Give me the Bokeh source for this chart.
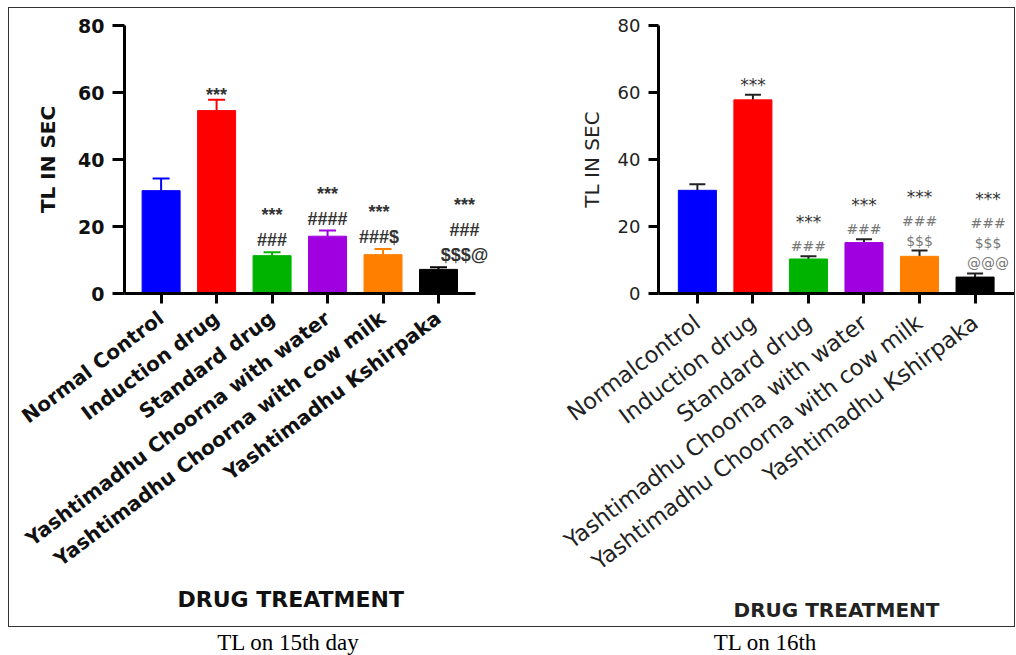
import math
from bokeh.plotting import figure
from bokeh.models import (ColumnDataSource, Range1d, FixedTicker, Div, Spacer, LabelSet, Title)
from bokeh.layouts import row, column
from bokeh.embed import file_html
from bokeh.resources import INLINE
from bokeh.core.properties import value

# ---------------- data ----------------
labels_15 = ["Normal Control", "Induction drug", "Standard drug",
             "Yashtimadhu Choorna with water", "Yashtimadhu Choorna with cow milk",
             "Yashtimadhu Kshirpaka"]
tl_15 = [30.7, 54.6, 11.3, 17.1, 11.6, 7.2]
sem_15 = [3.6, 3.2, 1.0, 1.7, 1.7, 0.6]
sig_15 = [[], ["***"], ["***", "###"], ["***", "####"], ["***", "###$"],
          ["***", "###", "$$$@"]]

labels_16 = ["Normalcontrol", "Induction drug", "Standard drug",
             "Yashtimadhu Choorna with water", "Yashtimadhu Choorna with cow milk",
             "Yashtimadhu Kshirpaka"]
tl_16 = [30.8, 57.8, 10.3, 15.2, 11.1, 4.9]
sem_16 = [1.8, 1.5, 0.8, 1.0, 1.7, 1.1]
sig_16 = [[], ["***"], ["***", "###"], ["***", "###"], ["***", "###", "$$$"],
          ["***", "###", "$$$", "@@@"]]

bar_colors = ["#0000fe", "#fe0000", "#00b300", "#a000e0", "#ff8000", "#000000"]
y_ticks = [0, 20, 40, 60, 80]
x_title = "DRUG TREATMENT"
y_title = "TL IN SEC"
captions = ["TL on 15th day", "TL on 16th"]


def panel(labels, means, sems, sigs, cfg):
    n_bars = len(labels)
    xs = list(range(n_bars))
    p = figure(x_range=Range1d(*cfg["xr"]), y_range=Range1d(0, 80),
               width=cfg["width"], height=cfg["height"],
               output_backend="svg", toolbar_location=None,
               min_border_left=cfg["mbl"], min_border_right=cfg["mbr"],
               min_border_top=cfg["mbt"], min_border_bottom=cfg["mbb"])
    p.outline_line_color = None
    p.xgrid.visible = False
    p.ygrid.visible = False
    p.background_fill_color = "white"
    p.border_fill_color = "white"

    tops = [m + s for m, s in zip(means, sems)]
    cap_col = bar_colors if cfg["cap_same"] else ["#222222"] * n_bars
    src = ColumnDataSource(dict(x=xs, m=means, t=tops, c=bar_colors, cc=cap_col))
    p.segment(x0="x", y0="m", x1="x", y1="t", line_color="cc", line_width=2, source=src)
    p.scatter(x="x", y="t", marker="dash", size=cfg["cap"], line_color="cc",
              line_width=2, source=src)
    p.vbar(x="x", top="m", bottom=0, width=0.685, fill_color="c", line_color="c", source=src)

    ax, ay, at, ao, axo, acol, asz = [], [], [], [], [], [], []
    for i, lines in enumerate(sigs):
        n = len(lines)
        for j, t in enumerate(lines):
            k = n - 1 - j
            star = t.startswith("*")
            ax.append(xs[i])
            ay.append(tops[i])
            at.append(t)
            extra = cfg["star_extra"] if (star and k > 0) else 0
            g0 = cfg["g0"] if n > 1 else cfg["g_single"]
            ao.append(g0 + k * cfg["gap"] + extra)
            axo.append(cfg["shift"].get(i, 0))
            acol.append(cfg["star_col"] if star else cfg["sym_col"])
            asz.append(cfg["star_size"] if star else cfg["ann_size"])
    asrc = ColumnDataSource(dict(x=ax, y=ay, t=at, yo=ao, xo=axo, c=acol, s=asz))
    p.add_layout(LabelSet(x="x", y="y", text="t", y_offset="yo", x_offset="xo", source=asrc,
                          text_color="c", text_align="center", text_baseline="middle",
                          text_font=value(cfg["ann_font"]), text_font_size="s",
                          text_font_style=cfg["ann_style"]))

    for a in (p.xaxis[0], p.yaxis[0]):
        a.axis_line_width = 3
        a.axis_line_color = "black"
        a.major_tick_line_width = 3
        a.major_tick_line_color = "black"
        a.major_tick_in = 0
        a.minor_tick_line_color = None
        a.major_label_text_color = cfg["lab_col"]
        a.axis_label_text_color = cfg["lab_col"]
    p.yaxis.ticker = FixedTicker(ticks=y_ticks)
    p.yaxis.major_tick_out = cfg["tick_y"]
    p.yaxis.major_label_text_font = cfg["font"]
    p.yaxis.major_label_text_font_size = cfg["ytick_size"]
    p.yaxis.major_label_text_font_style = cfg["tick_style"]
    p.yaxis.major_label_standoff = 8
    p.yaxis.axis_label = y_title
    p.yaxis.axis_label_text_font = cfg["font"]
    p.yaxis.axis_label_text_font_size = cfg["ylab_size"]
    p.yaxis.axis_label_text_font_style = cfg["ylab_style"]
    p.yaxis.axis_label_standoff = cfg["ylab_standoff"]

    p.xaxis.ticker = FixedTicker(ticks=xs)
    p.xaxis.major_label_overrides = {i: lab for i, lab in zip(xs, labels)}
    p.xaxis.bounds = cfg["xbounds"]
    p.xaxis.major_tick_out = 10
    p.xaxis.major_label_orientation = math.radians(37)
    p.xaxis.major_label_text_font = cfg["font"]
    p.xaxis.major_label_text_font_size = cfg["xtick_size"]
    p.xaxis.major_label_text_font_style = cfg["tick_style"]
    p.xaxis.major_label_standoff = cfg["xstand"]
    if cfg["title_offset"] is None:
        p.xaxis.axis_label = x_title
        p.xaxis.axis_label_text_font = cfg["font"]
        p.xaxis.axis_label_text_font_size = cfg["xlab_size"]
        p.xaxis.axis_label_text_font_style = "bold"
        p.xaxis.axis_label_standoff = cfg["xlab_standoff"]
    else:
        p.add_layout(Title(text=x_title, align="left", offset=cfg["title_offset"],
                           text_font=cfg["font"], text_font_size=cfg["xlab_size"],
                           text_font_style="bold", text_color=cfg["lab_col"],
                           standoff=cfg["xlab_standoff"]), "below")
    return p


cfg1 = dict(width=510, height=618, mbl=115, mbr=0, mbt=17, mbb=333, cap=17,
            xr=(-0.66, 6.46), xbounds=(-0.66, 5.66), title_offset=53,
            cap_same=True, g0=12, g_single=5, gap=25, star_extra=0, shift={4: -4, 5: 26},
            star_col="#333333", sym_col="#333333", ann_font="Liberation Sans",
            ann_size="18px", star_size="18px", ann_style="bold", lab_col="#111111",
            font="DejaVu Sans", tick_y=12, ytick_size="19px", tick_style="bold",
            ylab_size="20px", ylab_style="bold", ylab_standoff=15, xtick_size="20px",
            xlab_size="22px", xlab_standoff=2, xstand=12)
cfg2 = dict(width=495, height=618, mbl=139, mbr=0, mbt=17, mbb=328, cap=16,
            xr=(-0.70, 5.71), xbounds=(-0.70, 5.71), title_offset=None,
            cap_same=False, g0=10, g_single=10, gap=20, star_extra=4, shift={5: 13},
            star_col="#333333", sym_col="#777777", ann_font="DejaVu Sans",
            ann_size="14px", star_size="17px", ann_style="normal", lab_col="#222222",
            font="DejaVu Sans", tick_y=10, ytick_size="18px", tick_style="normal",
            ylab_size="20px", ylab_style="normal", ylab_standoff=11, xtick_size="22.5px",
            xlab_size="20px", xlab_standoff=10, xstand=16)

p1 = panel(labels_15, tl_15, sem_15, sig_15, cfg1)
p2 = panel(labels_16, tl_16, sem_16, sig_16, cfg2)

box = row(p1, p2, styles={"border": "1px solid #333333"})
cap_style = {"font-family": "Liberation Serif", "font-size": "23px",
             "text-align": "center", "line-height": "22px", "color": "#000"}
d1 = Div(text=captions[0], width=550, height=22, styles=cap_style)
d2 = Div(text=captions[1], width=384, height=22, styles=cap_style)
layout = column(Spacer(height=7), row(Spacer(width=8), column(box, row(d1, d2))))

open("out.html", "w").write(file_html(layout, INLINE))
